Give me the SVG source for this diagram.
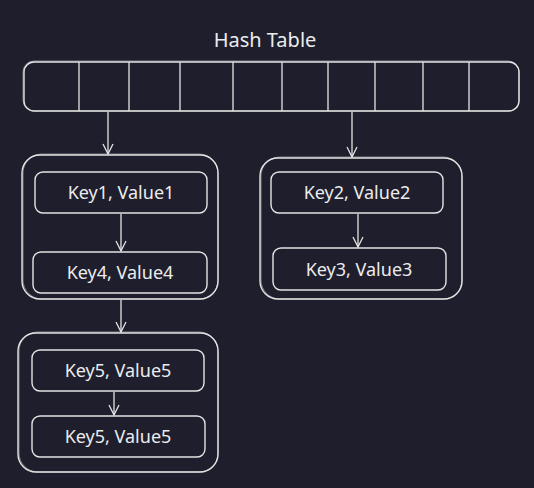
<svg xmlns="http://www.w3.org/2000/svg" width="534" height="488" viewBox="0 0 534 488">
<defs>
<style>
.bg{fill:#1e1e2c}
.box{fill:none;stroke:#e4e4e4;stroke-width:1.4}
.box2{fill:none;stroke:#e4e4e4;stroke-width:0.7;opacity:0.7}
.ln{fill:none;stroke:#e4e4e4;stroke-width:1.3}
.t{fill:#ececec;font-family:"Noto Sans","Liberation Sans",sans-serif;font-size:18px;text-anchor:middle}
</style>
<marker id="ah" viewBox="0 0 12 12" refX="11" refY="6" markerWidth="12" markerHeight="12" markerUnits="userSpaceOnUse" orient="auto">
<path d="M1,1 L11,6 L1,11" fill="none" stroke="#e4e4e4" stroke-width="1.3"/>
</marker>
</defs>
<rect class="bg" width="534" height="488"/>
<g id="hashtable">
<text class="t" x="265" y="47" style="font-size:20px">Hash Table</text>
<rect class="box" x="24" y="62" width="495" height="49" rx="10"/>
<rect class="box2" x="23" y="61" width="496" height="50" rx="11"/>
<path class="ln" d="M79,62 V111 M129,62 V111 M180,62 V111 M233,62 V111 M282,62 V111 M328,62 V111 M375,62 V111 M423,62 V111 M469,62 V111"/>
</g>
<g id="bucket1">
<rect class="box" x="22" y="155" width="196" height="144" rx="18"/>
<rect class="box2" x="23" y="154" width="195" height="145" rx="19"/>
</g>
<g id="kv1">
<rect class="box" x="35" y="172" width="172" height="41" rx="8"/>
<text class="t" x="121" y="199">Key1, Value1</text>
</g>
<g id="kv4">
<rect class="box" x="33" y="252" width="174" height="41" rx="8"/>
<text class="t" x="120" y="279">Key4, Value4</text>
</g>
<g id="bucket2">
<rect class="box" x="260" y="158" width="202" height="141" rx="18"/>
<rect class="box2" x="261" y="157" width="201" height="142" rx="19"/>
</g>
<g id="kv2">
<rect class="box" x="271" y="172" width="172" height="41" rx="8"/>
<text class="t" x="357" y="199">Key2, Value2</text>
</g>
<g id="kv3">
<rect class="box" x="273" y="248" width="173" height="42" rx="8"/>
<text class="t" x="359" y="276">Key3, Value3</text>
</g>
<g id="bucket3">
<rect class="box" x="18" y="333" width="200" height="139" rx="18"/>
<rect class="box2" x="19" y="332" width="199" height="140" rx="19"/>
</g>
<g id="kv5a">
<rect class="box" x="32" y="350" width="172" height="41" rx="8"/>
<text class="t" x="118" y="377">Key5, Value5</text>
</g>
<g id="kv5b">
<rect class="box" x="32" y="416" width="173" height="41" rx="8"/>
<text class="t" x="118" y="443">Key5, Value5</text>
</g>
<g id="connectors">
<path class="ln" d="M108,112 V154" marker-end="url(#ah)"/>
<path class="ln" d="M352,112 V157" marker-end="url(#ah)"/>
<path class="ln" d="M121,214 V251" marker-end="url(#ah)"/>
<path class="ln" d="M358,214 V247" marker-end="url(#ah)"/>
<path class="ln" d="M121,300 V332" marker-end="url(#ah)"/>
<path class="ln" d="M114,392 V415" marker-end="url(#ah)"/>
</g>
</svg>
